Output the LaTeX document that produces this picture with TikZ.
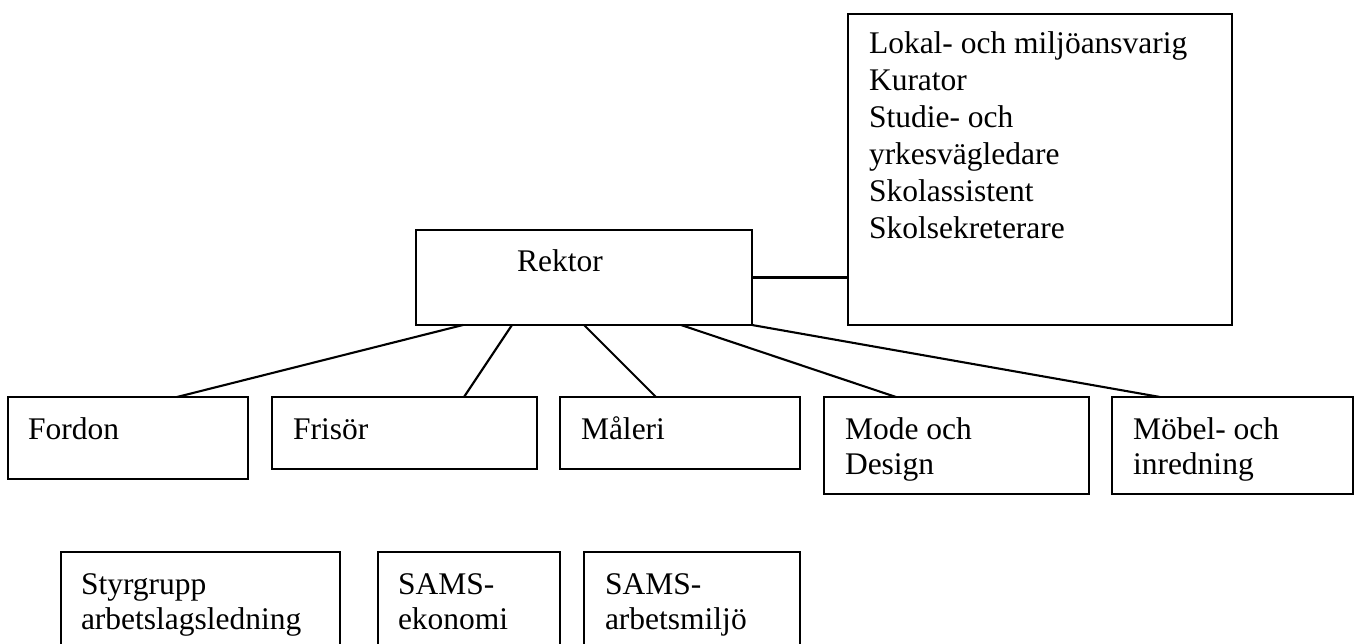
\documentclass[tikz,border=0pt]{standalone}
\usepackage{fontspec}
\setmainfont{Liberation Serif}
\newcommand{\mystack}[1]{\begin{tabular}[t]{@{}l@{}}#1\end{tabular}}
\begin{document}
\begin{tikzpicture}[x=1pt,y=-1pt,
  box/.style={draw, line width=2.1pt, rectangle, inner sep=0pt, outer sep=0pt, anchor=north west},
  lbl/.style={anchor=base west, inner sep=0pt, outer sep=0pt, font=\fontsize{31.5}{35}\selectfont},
  link/.style={line width=2.1pt}]
\useasboundingbox (0,0) rectangle (1358,643);
\clip (0,0) rectangle (1358,643);
% boxes
\node[box, minimum width=384pt, minimum height=311pt] (staff) at (848,14) {};
\node[box, minimum width=336pt, minimum height=95pt] (rektor) at (416,230) {};
\node[box, minimum width=240pt, minimum height=82pt] (fordon) at (8,397) {};
\node[box, minimum width=265pt, minimum height=72pt] (frisor) at (272,397) {};
\node[box, minimum width=240pt, minimum height=72pt] (maleri) at (560,397) {};
\node[box, minimum width=265pt, minimum height=97pt] (mode) at (824,397) {};
\node[box, minimum width=241pt, minimum height=97pt] (mobel) at (1112,397) {};
\node[box, minimum width=279pt, minimum height=120pt] (styr) at (61,552) {};
\node[box, minimum width=182pt, minimum height=120pt] (ekon) at (378,552) {};
\node[box, minimum width=216pt, minimum height=120pt] (miljo) at (584,552) {};
% texts
\node[lbl, font=\fontsize{31.5}{37}\selectfont] (tstaff) at (869,53)
  {\mystack{Lokal- och miljöansvarig\\Kurator\\Studie- och\\yrkesvägledare\\Skolassistent\\Skolsekreterare}};
\node[lbl] (trektor) at (517,271) {Rektor};
\node[lbl] (tfordon) at (28,439) {Fordon};
\node[lbl] (tfrisor) at (293,439) {Frisör};
\node[lbl] (tmaleri) at (581,439) {Måleri};
\node[lbl] (tmode) at (845,439) {\mystack{Mode och\\Design}};
\node[lbl] (tmobel) at (1133,439) {\mystack{Möbel- och\\inredning}};
\node[lbl] (tstyr) at (81,594) {\mystack{Styrgrupp\\arbetslagsledning}};
\node[lbl] (tekon) at (398,594) {\mystack{SAMS-\\ekonomi}};
\node[lbl] (tmiljo) at (605,594) {\mystack{SAMS-\\arbetsmiljö}};
% connectors
\draw[link] ([xshift=47pt]rektor.south west) -- ([xshift=169pt]fordon.north west);
\draw[link] ([xshift=96pt]rektor.south west) -- ([xshift=192pt]frisor.north west);
\draw[link] ([xshift=168pt]rektor.south west) -- ([xshift=96pt]maleri.north west);
\draw[link] ([xshift=265pt]rektor.south west) -- ([xshift=72pt]mode.north west);
\draw[link] (rektor.south east) -- ([xshift=48pt]mobel.north west);
\draw[link] (rektor.east) -- (rektor.east -| staff.west);
\end{tikzpicture}
\end{document}
